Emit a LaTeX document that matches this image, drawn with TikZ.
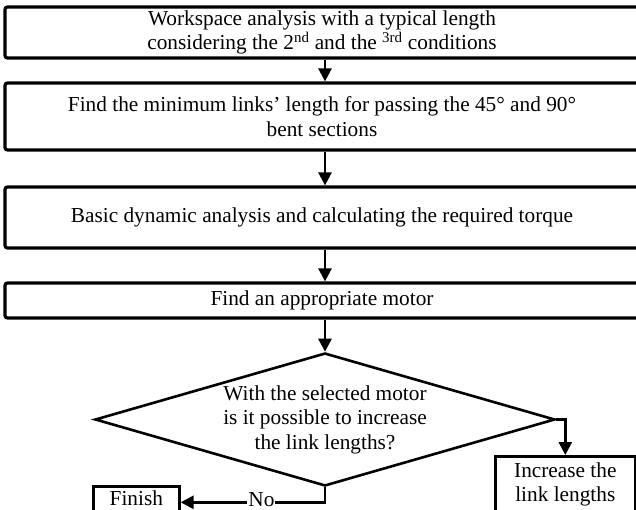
\documentclass[tikz,border=0pt]{standalone}
\usepackage{fontspec}
\setmainfont{Liberation Serif}
\usetikzlibrary{arrows.meta,shapes.geometric}
\tikzset{
    stepbox/.style={draw, line width=3.2pt, rounded corners=2.5pt, minimum width=634pt, align=center, inner sep=0pt},
    smallbox/.style={draw, line width=2.6pt, align=center, inner sep=2pt},
    decision/.style={diamond, draw, line width=2.6pt, align=center, inner sep=0pt, aspect=3.46, minimum width=460pt, minimum height=133pt},
    flow/.style={line width=2.6pt, -{Triangle[length=13pt, width=13pt]}}
}
\begin{document}
\begin{tikzpicture}[x=1pt, y=-1pt, font=\fontsize{21.3}{24.5}\selectfont]
    \useasboundingbox (0, 0) rectangle (636, 510);
    \clip (0, 0) rectangle (636, 510);
        \node[stepbox, minimum height=51pt] (workspace) at (322, 32.5) {Workspace analysis with a typical length\\considering the 2\textsuperscript{nd} and the \textsuperscript{3rd} conditions};
        \node[stepbox, minimum height=67pt] (minlength) at (322, 116.5) {Find the minimum links' length for passing the 45° and 90°\\bent sections};
        \node[stepbox, minimum height=61pt] (dynamics) at (322, 217.5) {Basic dynamic analysis and calculating the required torque};
        \node[stepbox, minimum height=35pt] (motor) at (322, 300.5) {Find an appropriate motor};
        \node[decision] (check) at (325, 419.5) {With the selected motor\\is it possible to increase\\the link lengths?};
        \node[smallbox, minimum width=86pt, minimum height=32pt, text height=15pt, text depth=9pt, anchor=north west] (finish) at (92, 485) {Finish};
        \node[smallbox, minimum width=140pt, minimum height=56pt, anchor=north west] (increase) at (494, 455) {Increase the\\link lengths};
        \draw[flow] (workspace.south -| check.north) -- (minlength.north -| check.north);
        \draw[flow] (minlength.south -| check.north) -- (dynamics.north -| check.north);
        \draw[flow] (dynamics.south -| check.north) -- (motor.north -| check.north);
        \draw[flow] (motor.south -| check.north) -- (check.north);
        \draw[flow] (check.east) -| (increase.north);
        \draw[flow] (check.south) |- node[pos=0.72, fill=white, inner sep=1pt, yshift=3pt] {No} (finish.east);
    \end{tikzpicture}
\end{document}
